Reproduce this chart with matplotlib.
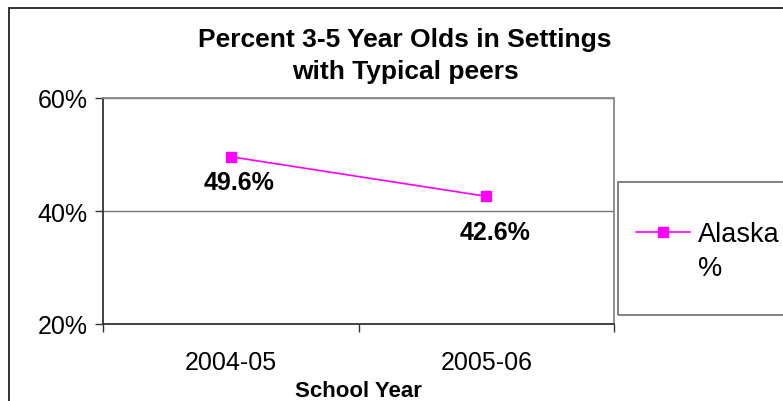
import matplotlib
matplotlib.use("Agg")
import matplotlib.pyplot as plt
from matplotlib.patches import Rectangle
from matplotlib.ticker import FuncFormatter, FixedLocator

plt.rcParams["font.family"] = ["Liberation Sans", "DejaVu Sans"]

# Chart data
school_years = ["2004-05", "2005-06"]
alaska_pct = [49.6, 42.6]
series_name = "Alaska\n%"
y_ticks = [20, 40, 60]

W, H = 783, 402
fig = plt.figure(figsize=(W / 100, H / 100), dpi=100)

# outer chart frame (runs off the right and bottom edges)
fig.patches.append(Rectangle((9 / W, -0.1), 1.2, 1 - 9 / H + 0.1,
                             transform=fig.transFigure, fill=False,
                             edgecolor="#222222", linewidth=1.3))

# plot area
ax = fig.add_axes([103 / W, 1 - 325 / H, (614 - 103) / W, (325 - 99) / H])

x = list(range(len(school_years)))
ax.plot(x, alaska_pct, color="#FF00FF", linewidth=1.2, marker="s",
        markersize=7.5, label=series_name, zorder=3)

# value labels below the points
label_offsets = [-18, -26]
for xi, v, off in zip(x, alaska_pct, label_offsets):
    ax.annotate(f"{v:.1f}%", (xi, v), xytext=(6, off), textcoords="offset points",
                ha="center", va="center", fontsize=18, fontweight="bold")

ax.set_xlim(-0.5, len(school_years) - 0.5)
ax.set_ylim(y_ticks[0], y_ticks[-1])
ax.set_yticks(y_ticks)
ax.yaxis.set_major_formatter(FuncFormatter(lambda v, p: f"{v:.0f}%"))
ax.set_xticks(x)
ax.set_xticklabels(school_years)
ax.xaxis.set_minor_locator(FixedLocator([i - 0.5 for i in range(len(school_years) + 1)]))

ax.tick_params(axis="x", which="major", length=0, pad=19, labelsize=18)
ax.tick_params(axis="x", which="minor", length=6, width=1, color="#333333")
ax.tick_params(axis="y", length=6, width=1, color="#333333", pad=5, labelsize=18)

ax.yaxis.grid(True, color="#777777", linewidth=1)
ax.set_axisbelow(True)
for side in ["top", "right"]:
    ax.spines[side].set_color("#888888")
    ax.spines[side].set_linewidth(1.3)
for side in ["left", "bottom"]:
    ax.spines[side].set_color("#333333")
    ax.spines[side].set_linewidth(1.3)

ax.set_xlabel("School Year", fontsize=16, fontweight="bold", labelpad=4)

fig.text(405 / W, 1 - 56 / H, "Percent 3-5 Year Olds in Settings\nwith Typical peers",
         ha="center", va="center", fontsize=19, fontweight="bold", linespacing=1.4)

# legend box
fig.patches.append(Rectangle((618 / W, 1 - 316 / H), 0.3, (316 - 183) / H,
                             transform=fig.transFigure, fill=False,
                             edgecolor="#777777", linewidth=1.3))
leg = fig.legend(loc="upper left", bbox_to_anchor=(636 / W, 1 - 222 / H), frameon=False,
                 fontsize=19.5, handlelength=2.0, handleheight=1.1, handletextpad=0.3,
                 borderpad=0, borderaxespad=0, labelspacing=0)
for t in leg.get_texts():
    t.set_linespacing(1.4)
# keep the marker beside the first line of the two-line label (Excel style)
for row in leg._legend_handle_box.get_children():
    for pack in row.get_children():
        pack.align = "top"

fig.savefig("out.png", dpi=100)
